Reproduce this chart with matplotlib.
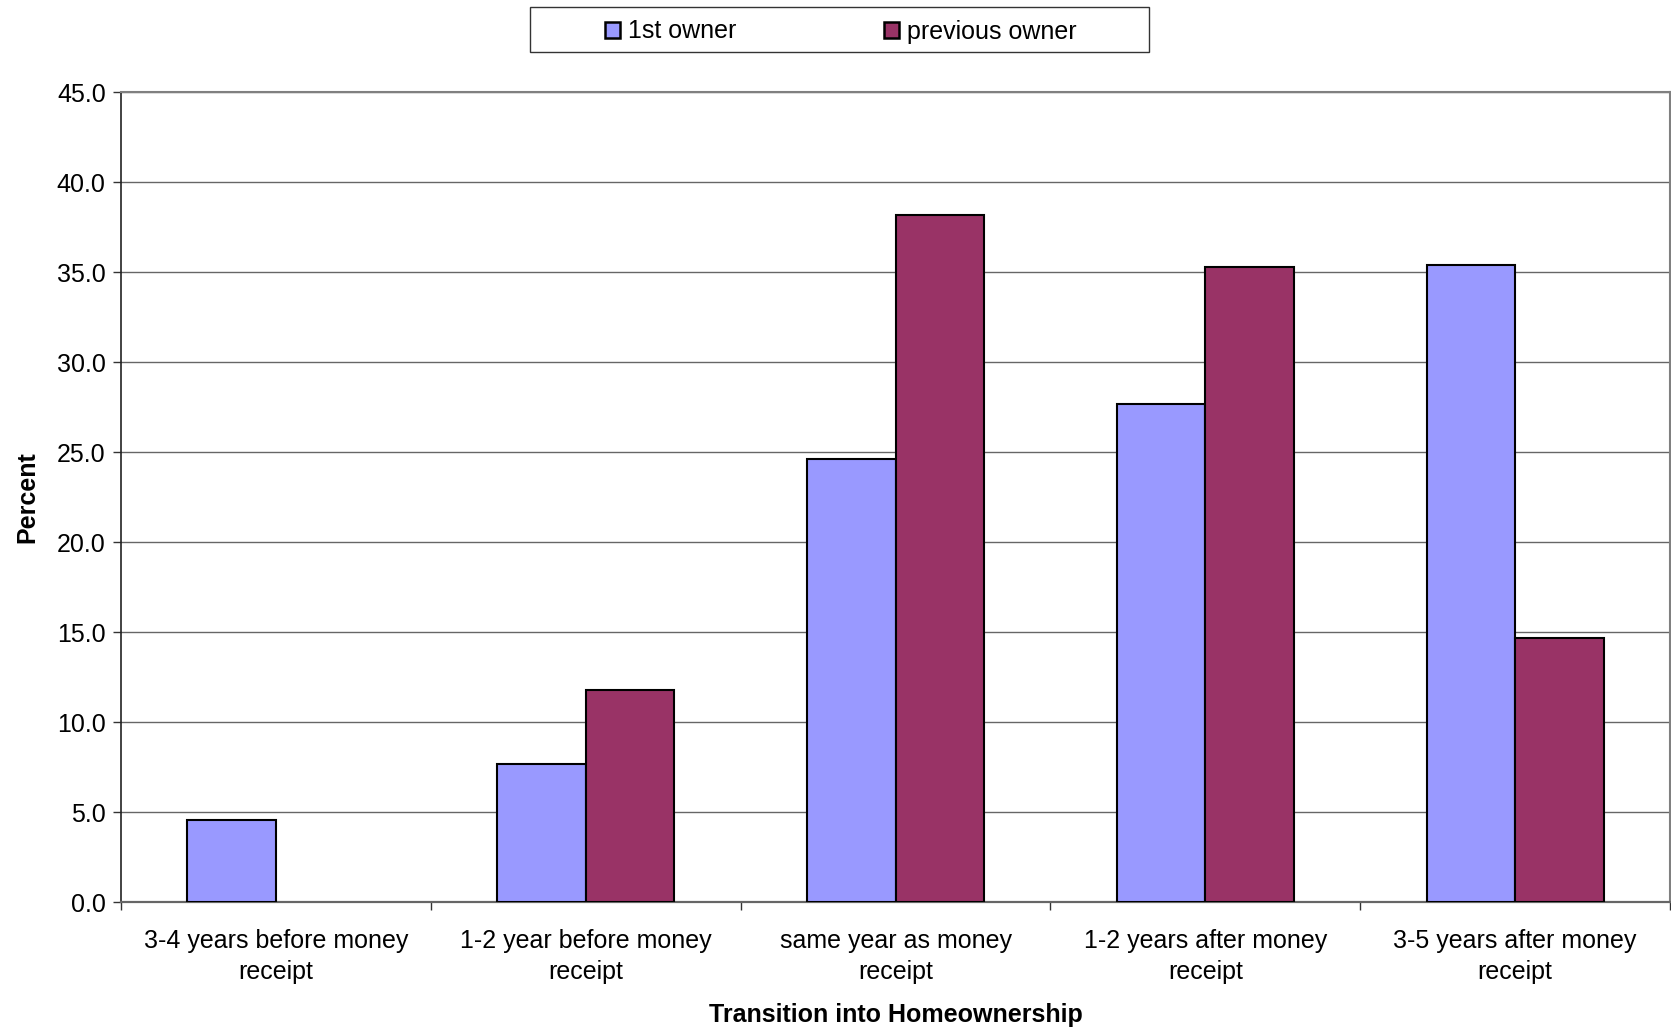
import matplotlib
matplotlib.use("Agg")
import matplotlib.pyplot as plt
from matplotlib.patches import Rectangle, Patch
import numpy as np

plt.rcParams['font.family'] = ['Liberation Sans', 'DejaVu Sans']

categories = ["3-4 years before money\nreceipt",
              "1-2 year before money\nreceipt",
              "same year as money\nreceipt",
              "1-2 years after money\nreceipt",
              "3-5 years after money\nreceipt"]
first_owner = [4.6, 7.7, 24.6, 27.7, 35.4]
previous_owner = [0.0, 11.8, 38.2, 35.3, 14.7]
series_names = ["1st owner", "previous owner"]
y_ticks = [0, 5, 10, 15, 20, 25, 30, 35, 40, 45]
y_tick_labels = ["0.0", "5.0", "10.0", "15.0", "20.0", "25.0", "30.0", "35.0", "40.0", "45.0"]

c1 = "#9999FF"
c2 = "#993366"
FS = 18

W, H = 1671, 1029
fig = plt.figure(figsize=(W / 100, H / 100), dpi=100)
ax = fig.add_axes([121 / W, 1 - 902.3 / H, (1670 - 121) / W, (902.3 - 92.3) / H])

x = np.arange(len(categories))
w = 1 / 3.5
h1 = np.where(np.array(first_owner) > 0, first_owner, np.nan)
h2 = np.where(np.array(previous_owner) > 0, previous_owner, np.nan)
ax.bar(x - w / 2, h1, width=w, color=c1, edgecolor="black", linewidth=1.5, zorder=3)
ax.bar(x + w / 2, h2, width=w, color=c2, edgecolor="black", linewidth=1.5, zorder=3)

ax.set_xlim(-0.5, len(categories) - 0.5)
ax.set_ylim(0, 45)
ax.set_yticks(y_ticks)
ax.set_yticklabels(y_tick_labels, fontsize=FS)
ax.yaxis.grid(True, color="#666666", linewidth=1.0, zorder=0)
ax.set_axisbelow(True)

ax.set_xticks(np.arange(-0.5, len(categories), 1.0))
ax.set_xticklabels([])
ax.set_xticks(x, minor=True)
ax.set_xticklabels(categories, minor=True, fontsize=FS, linespacing=1.38)
ax.tick_params(axis="x", which="major", direction="out", length=6, width=1, color="#333333")
ax.tick_params(axis="x", which="minor", length=0, pad=19)
ax.tick_params(axis="y", direction="out", length=6, width=1, pad=5, color="#333333")

ax.spines["left"].set_color("#222222")
ax.spines["left"].set_linewidth(1.2)
ax.spines["bottom"].set_color("#666666")
ax.spines["bottom"].set_linewidth(1.6)
ax.spines["top"].set_color("#808080")
ax.spines["top"].set_linewidth(1.5)
ax.spines["right"].set_color("#808080")
ax.spines["right"].set_linewidth(1.5)

fig.text(27 / W, 1 - 497 / H, "Percent", rotation=90, fontsize=FS, fontweight="bold",
         ha="center", va="center")
fig.text((121 + 1670) / 2 / W, 1 - 1015 / H, "Transition into Homeownership", fontsize=FS,
         fontweight="bold", ha="center", va="center")

# legend box
fig.patches.append(Rectangle((530 / W, 1 - 52 / H), (1149 - 530) / W, (52 - 7.5) / H,
                             transform=fig.transFigure, facecolor="white",
                             edgecolor="#333333", linewidth=1.0))
handles = [Patch(facecolor=c1, edgecolor="black", linewidth=1.8),
           Patch(facecolor=c2, edgecolor="black", linewidth=1.8)]
fig.legend(handles, series_names, loc="center", bbox_to_anchor=(840.5 / W, 1 - 31.5 / H),
           ncol=2, frameon=False, fontsize=FS, handlelength=0.62, handleheight=0.62,
           handletextpad=0.3, columnspacing=5.9, borderpad=0.2)

fig.savefig("out.png", dpi=100)
